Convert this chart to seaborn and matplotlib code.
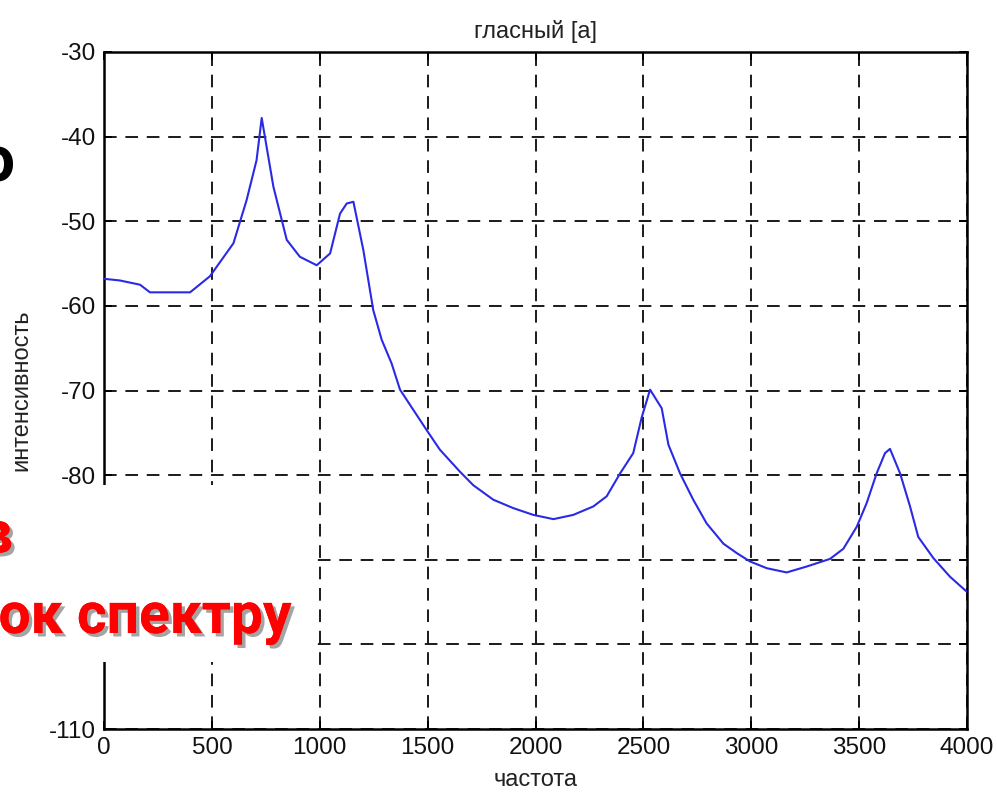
import matplotlib
matplotlib.use("Agg")
import matplotlib.pyplot as plt
import matplotlib.patheffects as pe
from matplotlib.patches import Rectangle
import numpy as np
import pandas as pd
import seaborn as sns

# Spectrum of the vowel [a]: frequency (Hz) vs intensity (dB)
freq_hz = [0, 74, 167, 213, 399, 491, 600, 661, 707, 731, 785, 847, 908, 986,
           1048, 1094, 1125, 1156, 1202, 1248, 1287, 1333, 1372, 1434, 1496,
           1557, 1650, 1712, 1804, 1897, 1990, 2083, 2175, 2268, 2330, 2392,
           2453, 2492, 2531, 2585, 2616, 2670, 2731, 2793, 2871, 2932, 2994,
           3072, 3164, 3257, 3365, 3427, 3489, 3535, 3581, 3620, 3643, 3690,
           3736, 3774, 3844, 3921, 4000]
intensity_db = [-56.8, -57.0, -57.5, -58.4, -58.4, -56.5, -52.6, -47.5, -42.8,
                -37.8, -45.9, -52.2, -54.2, -55.2, -53.8, -49.1, -47.9, -47.7,
                -53.4, -60.5, -64.0, -66.8, -69.9, -72.3, -74.7, -77.0, -79.6,
                -81.2, -82.9, -83.9, -84.7, -85.2, -84.7, -83.7, -82.5, -79.8,
                -77.4, -73.2, -69.9, -72.1, -76.4, -79.8, -82.9, -85.7, -88.1,
                -89.2, -90.2, -91.0, -91.5, -90.8, -89.9, -88.7, -86.1, -83.3,
                -79.8, -77.4, -76.9, -79.8, -83.7, -87.3, -89.8, -92.0, -93.8]

x_ticks = [0, 500, 1000, 1500, 2000, 2500, 3000, 3500, 4000]
y_ticks = [-30, -40, -50, -60, -70, -80, -90, -100, -110]
# labels hidden behind the pasted white box
y_hidden = [-90, -100]

title_text = "гласный [а]"
x_label = "частота"
y_label = "интенсивность"
slide_line_1 = "в"
slide_line_2 = "ок спектру"
slide_top = "о"

sns.set_theme(style="white")
plt.rcParams["font.family"] = ["Liberation Sans", "DejaVu Sans"]

W, H = 997, 795
fig = plt.figure(figsize=(W / 100, H / 100), dpi=100)
fig.patch.set_facecolor("white")

def fx(px):
    return px / W

def fy(py):
    return 1 - py / H

ax = fig.add_axes([fx(104), fy(729), fx(967) - fx(104), fy(52) - fy(729)])

df = pd.DataFrame({"f": freq_hz, "db": intensity_db})
sns.lineplot(data=df, x="f", y="db", ax=ax, color="#2a2ae6", linewidth=1.5,
             zorder=3)

ax.set_xlim(0, 4000)
ax.set_ylim(-110, -30)
ax.set_xticks(x_ticks)
ax.set_yticks(y_ticks)
ax.set_xticklabels([str(t) for t in x_ticks])
ax.set_yticklabels([str(t) for t in y_ticks])
for t, lab in zip(y_ticks, ax.get_yticklabels()):
    if t in y_hidden:
        lab.set_visible(False)

ax.grid(True, color="#1a1a1a", linestyle=(0, (6.5, 4.5)), linewidth=1.4)
for s in ax.spines.values():
    s.set_color("black")
    s.set_linewidth(1.8)
    s.set_visible(True)
ax.tick_params(direction="in", length=6, width=1.4, color="black",
               top=True, right=True, bottom=True, left=True,
               labelsize=17.5, labelcolor="#111111", pad=6)

ax.set_title(title_text, fontsize=17, color="#222222", pad=10)
ax.set_xlabel(x_label, fontsize=17, color="#222222", labelpad=7)
ax.set_ylabel(y_label, fontsize=17, color="#222222", labelpad=12)

# white box pasted over the lower left corner, with the slide text
fig.add_artist(Rectangle((0, fy(662)), fx(317), fy(485) - fy(662),
                         transform=fig.transFigure, facecolor="white",
                         edgecolor="none", zorder=10))

slide_font = ["Liberation Sans Narrow", "Roboto", "DejaVu Sans"]
shadow = [pe.withSimplePatchShadow(offset=(2.5, -2.5), shadow_rgbFace="#9a9a9a",
                                   alpha=0.9), pe.Normal()]
fig.text(fx(13), fy(553), slide_line_1, ha="right", va="baseline",
         fontsize=44, fontweight="bold", color="#ff0000",
         family=slide_font, zorder=11, path_effects=shadow)
fig.text(fx(292), fy(633), slide_line_2, ha="right", va="baseline",
         fontsize=41, fontweight="bold", color="#ff0000",
         family=slide_font, zorder=11, path_effects=shadow)
fig.text(fx(15), fy(181), slide_top, ha="right", va="baseline",
         fontsize=46, fontweight="bold", color="black",
         family=slide_font, zorder=11)

fig.savefig("out.png", dpi=100, facecolor="white")
